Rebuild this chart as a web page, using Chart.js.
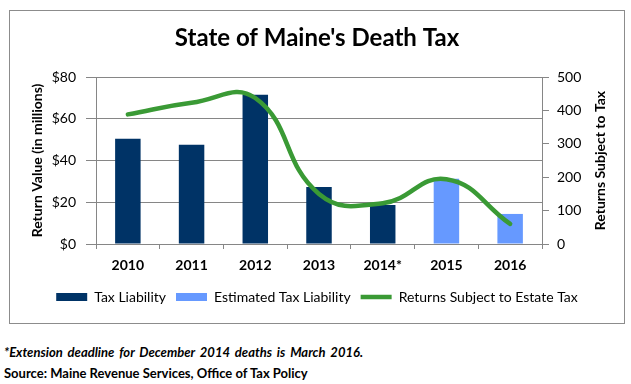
<!DOCTYPE html>
<html>
<head>
<meta charset="utf-8">
<script src="https://cdn.jsdelivr.net/npm/chart.js@4"></script>
<style>
  body { margin: 0; background: #fff; font-family: Lato, "Noto Sans", sans-serif; }
  #box { position: absolute; left: 9px; top: 10px; width: 614px; height: 312px; border: 1px solid #8c8c8c; }
  .note { position: absolute; left: 4px; font-size: 13px; font-weight: bold; color: #000; white-space: nowrap; }
  #note1 { top: 344px; font-style: italic; word-spacing: 2px; }
  #note2 { top: 365px; }
</style>
</head>
<body>
<div id="box"><canvas id="chart" width="614" height="312"></canvas></div>
<div class="note" id="note1">*Extension deadline for December 2014 deaths is March 2016.</div>
<div class="note" id="note2">Source: Maine Revenue Services, Office of Tax Policy</div>
<script>
const years = ["2010", "2011", "2012", "2013", "2014*", "2015", "2016"];
const taxLiability = [50.4, 47.5, 71.5, 27.3, 18.7, null, null];
const estTaxLiability = [null, null, null, null, null, 31.2, 14.4];
const returnsSubject = [388, 423, 437, 150, 122, 194, 60];

const gridGray = "#868686";
const fontFamily = "Lato, 'Noto Sans', sans-serif";
Chart.defaults.font.family = fontFamily;
Chart.defaults.color = "#000";

// right axis title reads bottom-to-top like the left one
const rightTitle = {
  id: "rightTitle",
  afterDraw(chart) {
    const s = chart.scales.y2;
    const ctx = chart.ctx;
    ctx.save();
    ctx.translate(s.left + 58, (chart.chartArea.top + chart.chartArea.bottom) / 2);
    ctx.rotate(-Math.PI / 2);
    ctx.font = "bold 14px " + fontFamily;
    ctx.fillStyle = "#000";
    ctx.textAlign = "center";
    ctx.textBaseline = "middle";
    ctx.fillText("Returns Subject to Tax", 0, 0);
    ctx.restore();
  }
};

const ctx = document.getElementById("chart").getContext("2d");
new Chart(ctx, {
  type: "bar",
  data: {
    labels: years,
    datasets: [
      {
        label: "Tax Liability",
        data: taxLiability,
        backgroundColor: "#003366",
        yAxisID: "y",
        order: 1
      },
      {
        label: "Estimated Tax Liability",
        data: estTaxLiability,
        backgroundColor: "#6699ff",
        yAxisID: "y",
        order: 1
      },
      {
        type: "line",
        label: "Returns Subject to Estate Tax",
        data: returnsSubject,
        borderColor: "#3a9a35",
        backgroundColor: "#3a9a35",
        borderWidth: 4.5,
        borderCapStyle: "round",
        pointRadius: 0,
        tension: 0.45,
        yAxisID: "y2",
        order: 0
      }
    ]
  },
  options: {
    responsive: false,
    animation: false,
    grouped: false,
    categoryPercentage: 1,
    barPercentage: 0.4,
    layout: { padding: { left: 0, right: 0, top: 0, bottom: 9 } },
    plugins: {
      title: {
        display: true,
        text: "State of Maine's Death Tax",
        font: { size: 24, weight: "bold" },
        color: "#000",
        padding: { top: 12.6, bottom: 24.6 }
      },
      legend: {
        position: "bottom",
        labels: {
          usePointStyle: true,
          pointStyleWidth: 31,
          boxHeight: 8,
          padding: 10,
          font: { size: 14 },
          color: "#000",
          sort: (a, b) => a.datasetIndex - b.datasetIndex,
          generateLabels(chart) {
            const items = Chart.defaults.plugins.legend.labels.generateLabels(chart);
            items.forEach(it => { it.pointStyle = it.datasetIndex === 2 ? "line" : "rect"; });
            return items;
          }
        }
      },
      tooltip: { enabled: false }
    },
    scales: {
      x: {
        grid: { drawOnChartArea: false, tickLength: 5, color: gridGray, offset: true },
        border: { color: gridGray },
        ticks: { font: { size: 14, weight: "bold" }, padding: 8 },
        afterFit(scale) { scale.height = 36; }
      },
      y: {
        position: "left",
        min: 0,
        max: 80,
        grid: { color: gridGray, tickLength: 10 },
        border: { color: gridGray },
        ticks: { stepSize: 20, padding: 10, font: { size: 14 }, callback: v => "$" + v },
        title: {
          display: true,
          text: "Return Value (in millions)",
          font: { size: 14, weight: "bold" },
          padding: { top: 18.6, bottom: 0 }
        },
        afterFit(scale) { scale.width = 86; }
      },
      y2: {
        position: "right",
        min: 0,
        max: 500,
        grid: { drawOnChartArea: false, color: gridGray, tickLength: 7 },
        border: { color: gridGray },
        ticks: { stepSize: 100, padding: 8, font: { size: 14 } },
        afterFit(scale) { scale.width = 82; }
      }
    }
  },
  plugins: [rightTitle]
});
</script>
</body>
</html>
